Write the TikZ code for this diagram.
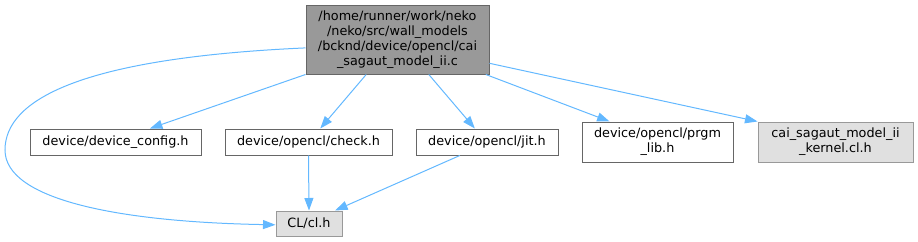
\documentclass[tikz,border=0pt]{standalone}
\usepackage{fontspec}
\setmainfont{DejaVu Sans}
\usetikzlibrary{arrows.meta,calc}
\definecolor{edgeblue}{HTML}{63B8FF}
\definecolor{maingray}{HTML}{999999}
\definecolor{mainborder}{HTML}{666666}
\definecolor{lightfill}{HTML}{E0E0E0}
\definecolor{lightborder}{HTML}{999999}
\tikzset{
  box/.style={draw=mainborder, fill=white, line width=1pt, inner sep=0pt, align=center,
    font=\fontsize{12.8pt}{15pt}\selectfont},
  mainbox/.style={box, fill=maingray, draw=mainborder},
  extbox/.style={box, fill=lightfill, draw=lightborder},
  dep/.style={draw=edgeblue, line width=1pt, -{Triangle[length=12.5pt,width=9pt]}, fill=none},
}
\begin{document}
\begin{tikzpicture}[x=1pt,y=-1pt]
\useasboundingbox (0,0) rectangle (918,241);
\node[mainbox, minimum width=183pt, minimum height=69pt] (main) at (397.5,39.5)
  {/home/runner/work/neko\\/neko/src/wall\_models\\/bcknd/device/opencl/cai\\\_sagaut\_model\_ii.c};
\node[box, minimum width=171pt, minimum height=26pt] (dc) at (115.5,142) {device/device\_config.h};
\node[box, minimum width=167pt, minimum height=26pt] (chk) at (308.5,142) {device/opencl/check.h};
\node[box, minimum width=142pt, minimum height=26pt] (jit) at (487,142) {device/opencl/jit.h};
\node[box, minimum width=151pt, minimum height=40pt] (prgm) at (657.5,142) {device/opencl/prgm\\\_lib.h};
\node[extbox, minimum width=155pt, minimum height=40pt] (kern) at (835.5,142) {cai\_sagaut\_model\_ii\\\_kernel.cl.h};
\node[extbox, minimum width=66pt, minimum height=25pt] (cl) at (309,223.5) {CL/cl.h};

\draw[dep] (main.south west) -- ($(dc.north west)!0.70!(dc.north east)$);
\draw[dep] ($(main.south west)!0.33!(main.south east)$) -- ($(chk.north west)!0.57!(chk.north east)$);
\draw[dep] ($(main.south west)!0.67!(main.south east)$) -- ($(jit.north west)!0.415!(jit.north east)$);
\draw[dep] ($(main.south west)!0.98!(main.south east)$) -- ($(prgm.north west)!0.185!(prgm.north east)$);
\draw[dep] ($(main.north east)!0.84!(main.south east)$) -- (kern.north west);
\draw[dep] ($(main.north west)!0.62!(main.south west)$) .. controls (80,58) and (5,100) .. (5,150)
  .. controls (5,200) and (120,222) .. ($(cl.north west)!0.55!(cl.south west)$);
\draw[dep] (chk.south) -- (cl.north);
\draw[dep] ($(jit.south west)!0.31!(jit.south east)$) -- ($(cl.north west)!0.89!(cl.north east)$);
\end{tikzpicture}
\end{document}
